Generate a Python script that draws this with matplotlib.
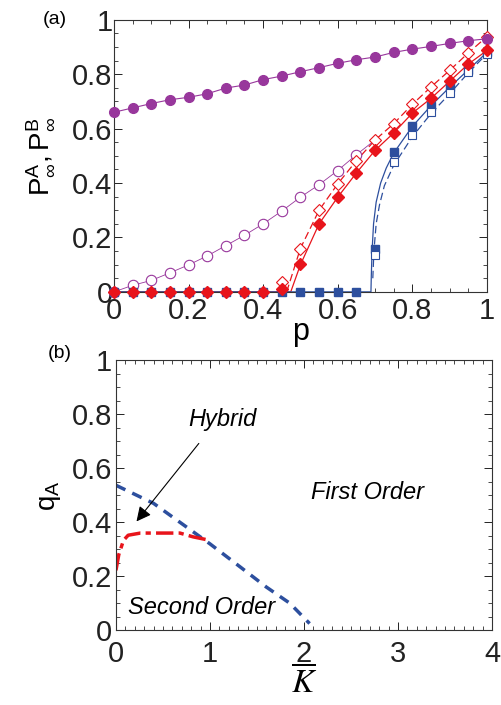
import matplotlib
matplotlib.use("Agg")
import matplotlib.pyplot as plt
import numpy as np
from matplotlib.ticker import MultipleLocator

plt.rcParams['font.family'] = ['Liberation Sans', 'DejaVu Sans']
plt.rcParams['mathtext.fontset'] = 'custom'
plt.rcParams['mathtext.rm'] = 'Liberation Sans'
plt.rcParams['mathtext.it'] = 'Liberation Sans:italic'

# ---------------- panel (a) data ----------------
p_all = [0.0, 0.05, 0.1, 0.15, 0.2, 0.25, 0.3, 0.35, 0.4, 0.45, 0.5,
         0.55, 0.6, 0.65, 0.7, 0.75, 0.8, 0.85, 0.9, 0.95, 1.0]
purple_filled = [0.66, 0.676, 0.692, 0.706, 0.715, 0.728, 0.749, 0.76, 0.78, 0.793, 0.809,
                 0.824, 0.84, 0.853, 0.863, 0.88, 0.892, 0.902, 0.913, 0.923, 0.93]
p_open_circ = [0.0, 0.05, 0.1, 0.15, 0.2, 0.25, 0.3, 0.35, 0.4, 0.45, 0.5, 0.55, 0.6, 0.65]
purple_open = [0.0, 0.024, 0.042, 0.07, 0.099, 0.132, 0.17, 0.208, 0.25, 0.297, 0.348,
               0.394, 0.446, 0.504]
red_filled = [0.0, 0.0, 0.0, 0.0, 0.0, 0.0, 0.0, 0.0, 0.0, 0.011, 0.103,
              0.251, 0.348, 0.437, 0.52, 0.584, 0.657, 0.711, 0.774, 0.837, 0.887]
p_red_open = [0.45, 0.5, 0.55, 0.6, 0.65, 0.7, 0.75, 0.8, 0.85, 0.9, 0.95, 1.0]
red_open = [0.035, 0.159, 0.3, 0.397, 0.482, 0.558, 0.618, 0.689, 0.753, 0.814, 0.878, 0.938]
blue_filled = [0.0, 0.0, 0.0, 0.0, 0.0, 0.0, 0.0, 0.0, 0.0, 0.0, 0.0,
               0.0, 0.0, 0.0, 0.158, 0.513, 0.608, 0.684, 0.752, 0.816, 0.88]
p_blue_open = [0.7, 0.75, 0.8, 0.85, 0.9, 0.95, 1.0]
blue_open = [0.135, 0.476, 0.575, 0.66, 0.731, 0.809, 0.875]

# theory curves
red_th_p = [0.0, 0.474, 0.5, 0.55, 0.6, 0.65, 0.7, 0.75, 0.8, 0.85, 0.9, 0.95, 1.0]
red_th_y = [0.0, 0.0, 0.1, 0.25, 0.348, 0.437, 0.52, 0.584, 0.657, 0.711, 0.774, 0.837, 0.887]
red_da_p = [0.463, 0.5, 0.55, 0.6, 0.65, 0.7, 0.75, 0.8, 0.85, 0.9, 0.95, 1.0]
red_da_y = [0.0, 0.16, 0.3, 0.397, 0.482, 0.558, 0.618, 0.689, 0.753, 0.814, 0.878, 0.938]
blue_th_p = [0.0, 0.689, 0.690, 0.692, 0.696, 0.703, 0.715, 0.73, 0.75, 0.8, 0.85, 0.9, 0.95, 1.0]
blue_th_y = [0.0, 0.0, 0.06, 0.15, 0.25, 0.33, 0.40, 0.455, 0.51, 0.608, 0.684, 0.752, 0.816, 0.88]
blue_da_p = [0.694, 0.697, 0.703, 0.712, 0.725, 0.75, 0.8, 0.85, 0.9, 0.95, 1.0]
blue_da_y = [0.05, 0.15, 0.25, 0.32, 0.39, 0.465, 0.57, 0.655, 0.728, 0.805, 0.875]

# ---------------- panel (b) data ----------------
K_blue = [0.0, 0.4, 0.72, 1.0, 1.32, 1.6, 1.85, 2.06]
q_blue = [0.537, 0.47, 0.39, 0.32, 0.235, 0.16, 0.10, 0.025]
K_red = [0.0, 0.03, 0.08, 0.13, 0.26, 0.68, 0.82, 1.0]
q_red = [0.222, 0.28, 0.333, 0.352, 0.36, 0.36, 0.346, 0.333]

purple = '#98379C'
red = '#E8141B'
blue = '#2D4F9E'

fig = plt.figure(figsize=(5.02, 7.05), dpi=100)
ax1 = fig.add_axes([0.227, 0.586, 0.743, 0.386])
ax2 = fig.add_axes([0.231, 0.106, 0.749, 0.383])

# theory lines
ax1.plot(red_th_p, red_th_y, '-', color=red, lw=0.9, zorder=2)
ax1.plot(red_da_p, red_da_y, '--', color=red, lw=0.9, dashes=(6, 3), zorder=2)
ax1.plot(blue_th_p, blue_th_y, '-', color=blue, lw=0.9, zorder=2)
ax1.plot(blue_da_p, blue_da_y, '--', color=blue, lw=0.9, dashes=(6, 3), zorder=2)
ax1.plot(p_all, purple_filled, '-', color=purple, lw=0.8, zorder=2)
ax1.plot(p_open_circ + [0.7], purple_open + [0.558], '-', color=purple, lw=0.6, zorder=2)

# markers
mk = dict(ls='none', clip_on=False)
ax1.plot(p_open_circ, purple_open, 'o', mfc='white', mec=purple, mew=0.8, ms=7.5, zorder=3, **mk)
ax1.plot(p_all, blue_filled, 's', color=blue, ms=5.5, zorder=3, **mk)
ax1.plot(p_blue_open, blue_open, 's', mfc='white', mec=blue, mew=0.8, ms=5.5, zorder=3, **mk)
ax1.plot(p_red_open, red_open, 'D', mfc='white', mec=red, mew=0.8, ms=6, zorder=4, **mk)
ax1.plot(p_all[:9], red_filled[:9], 'D', color=red, ms=6.5, zorder=5, **mk)
ax1.plot(p_all[9:], red_filled[9:], 'D', color=red, ms=6.5, zorder=5, **mk)
ax1.plot(p_all, purple_filled, 'o', color=purple, ms=7, zorder=4, **mk)

ax1.set_xlim(0, 1)
ax1.set_ylim(0, 1)
ax1.xaxis.set_minor_locator(MultipleLocator(0.05))
ax1.yaxis.set_minor_locator(MultipleLocator(0.05))
ax1.set_xticks([0, 0.2, 0.4, 0.6, 0.8, 1.0])
ax1.set_xticklabels(['0', '0.2', '0.4', '0.6', '0.8', '1'])
ax1.set_yticks([0, 0.2, 0.4, 0.6, 0.8, 1.0])
ax1.set_yticklabels(['0', '0.2', '0.4', '0.6', '0.8', '1'])
ax1.set_xlabel('p', fontsize=22, labelpad=-6)
ax1.set_ylabel(r'$\mathrm{P}^{\mathrm{A}}_{\infty}\mathrm{,P}^{\mathrm{B}}_{\infty}$', fontsize=20, labelpad=12)
ax1.text(-0.158, 1.0, '(a)', transform=ax1.transAxes, fontsize=14, ha='center', va='center')

# panel (b)
ax2.plot(K_blue, q_blue, '--', color=blue, lw=2.5, dashes=(3, 2.2))
ax2.plot(K_red, q_red, '-.', color=red, lw=2.5, dashes=(5, 1.5, 1.5, 1.5))
ax2.set_xlim(0, 4)
ax2.set_ylim(0, 1)
ax2.set_xticks([0, 1, 2, 3, 4])
ax2.set_xticklabels(['0', '1', '2', '3', '4'])
ax2.set_yticks([0, 0.2, 0.4, 0.6, 0.8, 1.0])
ax2.set_yticklabels(['0', '0.2', '0.4', '0.6', '0.8', '1'])
ax2.xaxis.set_minor_locator(MultipleLocator(0.1))
ax2.yaxis.set_minor_locator(MultipleLocator(0.05))
ax2.set_xlabel(r'$\overline{K}$', fontsize=24, labelpad=-2, math_fontfamily='stix')
ax2.set_ylabel(r'$\mathrm{q}_{\mathrm{A}}$', fontsize=20, labelpad=6)
ax2.text(-0.149, 1.026, '(b)', transform=ax2.transAxes, fontsize=14, ha='center', va='center')
ax2.text(1.13, 0.78, 'Hybrid', fontsize=17, style='italic', ha='center', va='center')
ax2.text(2.68, 0.51, 'First Order', fontsize=17, style='italic', ha='center', va='center')
ax2.text(0.91, 0.085, 'Second Order', fontsize=17, style='italic', ha='center', va='center')
ax2.annotate('', xy=(0.2, 0.395), xytext=(0.9, 0.70),
             arrowprops=dict(arrowstyle='-|>', color='black', lw=0.8, mutation_scale=22))

for ax, xpad, ypad in ((ax1, 4, 1), (ax2, 7, 3)):
    ax.tick_params(which='both', direction='in', top=True, right=True, labelsize=21)
    ax.tick_params(axis='y', pad=ypad)
    ax.tick_params(axis='x', pad=xpad)
    ax.tick_params(which='major', length=6, width=0.6)
    ax.tick_params(which='minor', length=3, width=0.5)
    for s in ax.spines.values():
        s.set_linewidth(0.8)
        s.set_color('#333333')
    for lab in ax.get_xticklabels() + ax.get_yticklabels():
        lab.set_color('#222222')

fig.savefig('out.png', dpi=100)
